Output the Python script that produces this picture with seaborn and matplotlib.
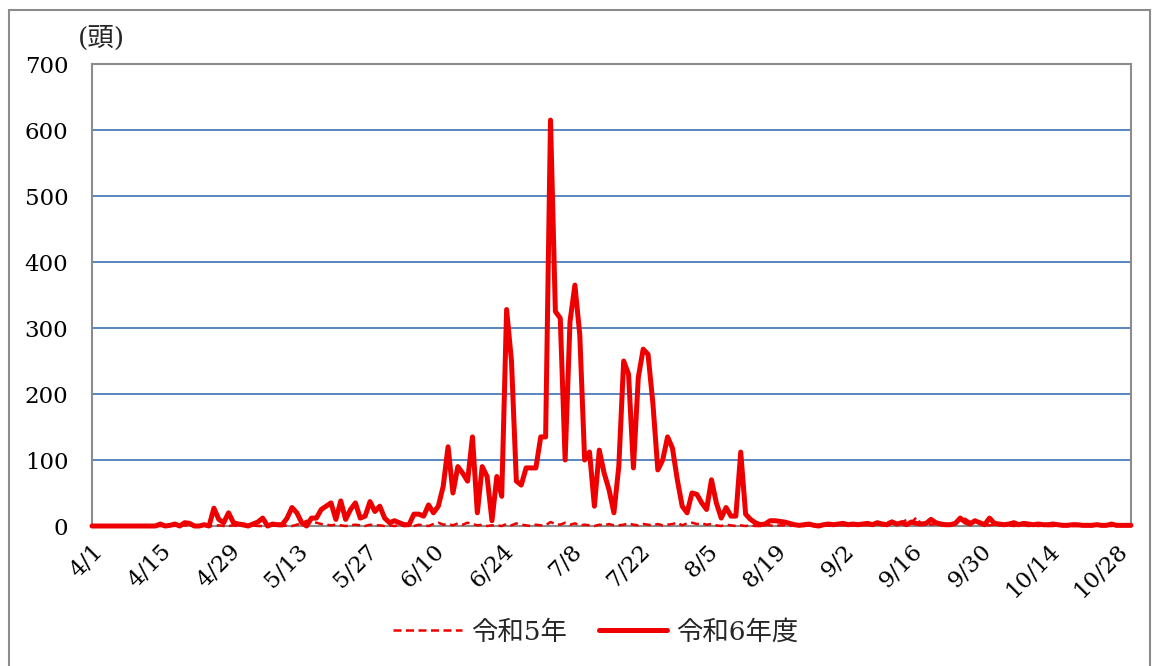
import numpy as np
import pandas as pd
import matplotlib
matplotlib.use('Agg')
import matplotlib.pyplot as plt
import seaborn as sns
from matplotlib.patches import Rectangle

#%% data (daily counts, 4/1 - 10/31)
r6 = [0, 0, 0, 0, 0, 0, 0, 0, 0, 0, 0, 0, 0, 0,
      3, 0, 1, 3, 0, 5, 4, 0, 0, 2, 0,
      27, 10, 5, 20, 5, 3, 2, 0, 3, 6,
      12, 0, 3, 2, 2, 12, 28, 20, 5, 0,
      12, 12, 25, 30, 35, 10, 38, 10, 25, 35,
      12, 15, 37, 22, 30, 12, 5, 8, 5, 2,
      2, 18, 18, 15, 32, 20, 30, 60, 120, 50,
      90, 80, 68, 135, 20, 90, 75, 8, 75, 45,
      328, 250, 68, 62, 88, 88, 88, 135, 135, 615,
      325, 315, 100, 310, 365, 290, 100, 112, 30, 115,
      80, 55, 20, 90, 250, 230, 88, 225, 268, 260,
      185, 85, 100, 135, 118, 70, 30, 20, 50, 48,
      35, 25, 70, 35, 12, 28, 15, 15, 112, 18,
      10, 5, 2, 3, 8, 8, 7, 6, 4, 2,
      1, 2, 3, 1, 0, 2, 3, 2, 3, 4,
      2, 3, 2, 3, 4, 2, 5, 3, 2, 6,
      3, 5, 2, 6, 4, 3, 4, 10, 5, 3,
      2, 2, 4, 12, 6, 3, 8, 5, 2, 12,
      4, 3, 2, 3, 5, 2, 4, 3, 2, 3,
      2, 2, 3, 2, 1, 1, 2, 2, 1, 1,
      1, 2, 1, 1, 3, 1, 1, 1, 1]

r5 = [0, 0, 0, 0, 0, 0, 0, 0, 0, 0, 0, 0, 0, 0,
      0, 0, 1, 0, 0, 1, 0, 0, 0, 1, 0,
      0, 1, 0, 0, 1, 0, 0, 0, 1, 0,
      0, 0, 1, 0, 0, 1, 0, 2, 4, 8,
      6, 5, 3, 2, 1, 2, 1, 0, 1, 2,
      1, 0, 2, 1, 1, 0, 1, 0, 1, 0,
      1, 0, 2, 1, 0, 3, 5, 2, 3, 1,
      4, 2, 5, 3, 1, 2, 0, 1, 1, 0,
      3, 1, 4, 2, 1, 0, 2, 1, 1, 6,
      3, 2, 5, 2, 4, 1, 2, 1, 0, 2,
      1, 3, 1, 1, 2, 4, 2, 1, 3, 2,
      1, 3, 1, 2, 3, 5, 1, 4, 5, 3,
      4, 2, 3, 1, 0, 2, 1, 0, 1, 0,
      1, 0, 0, 2, 1, 0, 1, 1, 0, 2,
      1, 0, 1, 0, 2, 0, 1, 1, 2, 1,
      2, 1, 3, 2, 1, 2, 3, 1, 5, 8,
      4, 6, 9, 5, 13, 3, 5, 2, 3, 1,
      2, 0, 5, 9, 11, 6, 10, 3, 2, 1,
      2, 1, 3, 1, 0, 2, 1, 0, 1, 0,
      1, 0, 0, 1, 0, 1, 0, 0, 1, 0,
      0, 1, 0, 0, 0, 1, 0, 0, 0]

tick_labels = ['4/1', '4/15', '4/29', '5/13', '5/27', '6/10', '6/24', '7/8',
               '7/22', '8/5', '8/19', '9/2', '9/16', '9/30', '10/14', '10/28']
series_names = ['令和5年', '令和6年度']

days = np.arange(len(r6))
df = pd.DataFrame({'day': days, 'r5': r5, 'r6': r6})

#%% plot
sns.set_style('white')
plt.rcParams['font.family'] = ['DejaVu Serif', 'Noto Sans CJK JP']

fig = plt.figure(figsize=(11.57, 6.66), dpi=100)
ax = fig.add_axes([0.0795, 0.2102, 0.898, 0.6937])

sns.lineplot(data=df, x='day', y='r5', ax=ax, color='#ee0000', linewidth=1.8,
             linestyle=(0, (3.2, 1.8)), label=series_names[0], clip_on=False, zorder=3)
sns.lineplot(data=df, x='day', y='r6', ax=ax, color='#ee0000', linewidth=3.6,
             label=series_names[1], clip_on=False, zorder=4)

ax.set_xlim(0, len(r6) - 1)
ax.set_ylim(0, 700)
ax.set_yticks(range(0, 701, 100))
ax.set_xticks(np.arange(len(tick_labels)) * 14)
ax.set_xticklabels(tick_labels, rotation=45, ha='right', rotation_mode='anchor')
ax.tick_params(axis='both', length=0, labelsize=16.5, colors='black')
ax.tick_params(axis='x', pad=10)
ax.tick_params(axis='y', pad=17)
ax.set_xlabel('')
ax.set_ylabel('')

ax.yaxis.grid(True, color='#4a7ebb', linewidth=1.3)
ax.xaxis.grid(False)
ax.set_axisbelow(True)
for s in ax.spines.values():
    s.set_color('#8c8c8c')
    s.set_linewidth(1.5)

ax.get_legend().remove()
handles, labels = ax.get_legend_handles_labels()
fig.legend(handles, labels, loc='center', bbox_to_anchor=(0.515, 0.051), ncol=2,
           frameon=False, fontsize=19, handlelength=2.6, columnspacing=1.2,
           handletextpad=0.35)

fig.text(0.088, 0.943, '(頭)', ha='center', va='center', fontsize=19)

fig.patches.append(Rectangle((0.008, -0.01), 0.986, 0.995, transform=fig.transFigure,
                             fill=False, edgecolor='#8c8c8c', linewidth=1.5))

fig.savefig('out.png', dpi=100)
